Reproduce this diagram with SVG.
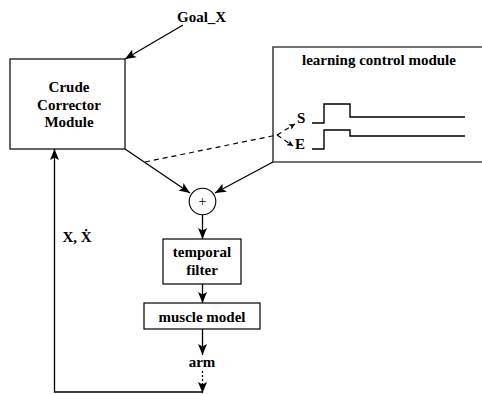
<svg xmlns="http://www.w3.org/2000/svg" width="482" height="394" viewBox="0 0 482 394">
  <style>
    .box { fill: #fff; stroke: #000; stroke-width: 1.2; }
    .lbl { font-family: "Liberation Serif", "Times New Roman", serif; font-weight: bold; font-size: 15px; fill: #000; }
    .mid { text-anchor: middle; }
    .wire { fill: none; stroke: #000; stroke-width: 1.3; }
    .dash { fill: none; stroke: #000; stroke-width: 1.2; stroke-dasharray: 5 4; }
    .dot { fill: none; stroke: #000; stroke-width: 1.2; stroke-dasharray: 2 2; }
    .sig { fill: none; stroke: #000; stroke-width: 1.4; }
  </style>
  <defs>
    <marker id="arrow" markerUnits="userSpaceOnUse" markerWidth="12" markerHeight="10" refX="11" refY="5" orient="auto">
      <path d="M0,0.5 L11,5 L0,9.5 L2.5,5 Z" fill="#000"/>
    </marker>
    <marker id="small" markerUnits="userSpaceOnUse" markerWidth="7" markerHeight="6" refX="6" refY="3" orient="auto">
      <path d="M0,0 L6,3 L0,6 L1.5,3 Z" fill="#000"/>
    </marker>
  </defs>

  <rect width="482" height="394" fill="#fff"/>

  <g id="goal">
    <text class="lbl" x="177" y="21.5">Goal_X</text>
  </g>

  <g id="crude-corrector">
    <rect class="box" x="10" y="59" width="115" height="90"/>
    <text class="lbl mid" x="69" y="92">Crude</text>
    <text class="lbl mid" x="69" y="110">Corrector</text>
    <text class="lbl mid" x="69" y="127">Module</text>
  </g>

  <g id="learning-control">
    <path d="M484,47 L273,47 L273,162 L484,162" fill="#fff" stroke="#444" stroke-width="1.6"/>
    <text class="lbl mid" x="379" y="65">learning control module</text>
    <text class="lbl" x="297" y="123">S</text>
    <text class="lbl" x="295" y="149">E</text>
    <path class="sig" d="M312,123 H324 V104 H350 V117 H465"/>
    <path class="sig" d="M312,149 H324 V130 H350 V136 H465"/>
  </g>

  <g id="sum">
    <circle cx="202.5" cy="201.5" r="13.3" fill="#fff" stroke="#000" stroke-width="1.1"/>
    <text x="202.5" y="206" text-anchor="middle" font-family="Liberation Serif, serif" font-size="14" fill="#000">+</text>
  </g>

  <g id="temporal-filter">
    <rect class="box" x="163" y="239" width="78" height="45"/>
    <text class="lbl mid" x="202" y="257">temporal</text>
    <text class="lbl mid" x="202" y="275">filter</text>
  </g>

  <g id="muscle-model">
    <rect class="box" x="144" y="303" width="116" height="26"/>
    <text class="lbl mid" x="202" y="322" font-size="14">muscle model</text>
  </g>

  <g id="arm">
    <text class="lbl mid" x="202" y="367">arm</text>
  </g>

  <g id="state-label">
    <text class="lbl" x="62.5" y="242">X, Ẋ</text>
  </g>

  <g id="connectors">
    <line class="wire" x1="183" y1="25" x2="125" y2="59" marker-end="url(#arrow)"/>
    <line class="wire" x1="125" y1="149" x2="190" y2="193" marker-end="url(#arrow)"/>
    <line class="wire" x1="273" y1="162" x2="215" y2="193" marker-end="url(#arrow)"/>
    <path class="dash" d="M145,162 L277,135"/>
    <line class="dash" x1="277" y1="135" x2="295" y2="124" stroke-dasharray="3 2.5" marker-end="url(#small)"/>
    <line class="dash" x1="277" y1="135" x2="293" y2="146" stroke-dasharray="3 2.5" marker-end="url(#small)"/>
    <line class="wire" x1="202.5" y1="215" x2="202.5" y2="239" marker-end="url(#arrow)"/>
    <line class="wire" x1="202.5" y1="284" x2="202.5" y2="303" marker-end="url(#arrow)"/>
    <line class="wire" x1="202.5" y1="329" x2="202.5" y2="355" marker-end="url(#arrow)"/>
    <line class="dot" x1="202.5" y1="371" x2="202.5" y2="393" marker-end="url(#arrow)"/>
    <path class="wire" d="M202.5,392 H54.5 V149" marker-end="url(#arrow)"/>
  </g>
</svg>
